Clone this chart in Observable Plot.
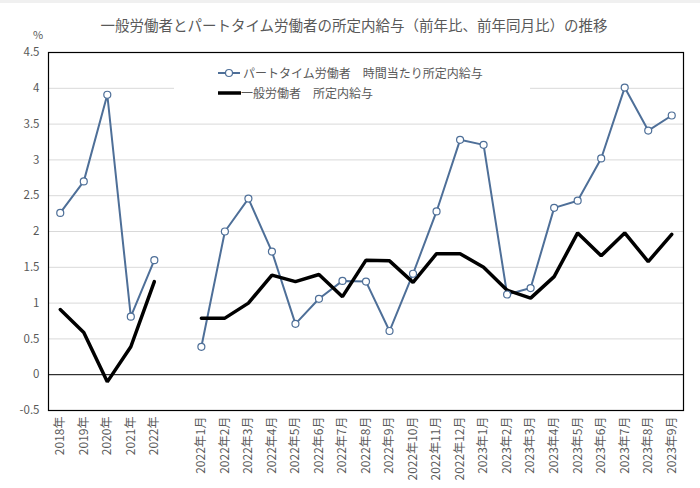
<!DOCTYPE html>
<html>
<head>
<meta charset="utf-8">
<script src="https://cdn.jsdelivr.net/npm/d3@7"></script>
<script src="https://cdn.jsdelivr.net/npm/@observablehq/plot@0.6"></script>
<style>
  html, body { margin: 0; padding: 0; background: #fff; }
  body { font-family: "Noto Sans CJK JP", "Noto Sans", sans-serif; color: #595959; }
  #wrap { position: relative; width: 700px; height: 488px; overflow: hidden; }
  #topbar { position: absolute; left: 0; top: 0; width: 700px; height: 3px; background: #f0f0f0; }
  #title { position: absolute; left: 0; top: 14px; width: 708px; text-align: center; font-size: 14.5px; color: #595959; }
  #pct { position: absolute; left: 33px; top: 26px; font-size: 11px; color: #595959; }
  #chart { position: absolute; left: 0; top: 40px; }
  #legend { position: absolute; left: 174px; top: 61px; width: 356px; height: 40px; background: #fff; }
  #legend .row { position: absolute; left: 0; height: 18px; font-size: 12px; line-height: 18px; white-space: nowrap; color: #595959; }
</style>
</head>
<body>
<div id="wrap">
  <div id="topbar"></div>
  <div id="title">一般労働者とパートタイム労働者の所定内給与（前年比、前年同月比）の推移</div>
  <div id="pct">%</div>
  <div id="chart"></div>
  <div id="legend">
    <div class="row" style="top:3px;">
      <svg width="70" height="18" style="position:absolute;left:40px;top:0"><line x1="4" y1="9" x2="26" y2="9" stroke="#4e6f98" stroke-width="2"/><circle cx="15" cy="9" r="3.5" fill="#fff" stroke="#4e6f98" stroke-width="1.2"/></svg>
      <span style="position:absolute;left:69px;">パートタイム労働者　時間当たり所定内給与</span>
    </div>
    <div class="row" style="top:23px;">
      <svg width="70" height="18" style="position:absolute;left:40px;top:0"><line x1="4" y1="9" x2="27" y2="9" stroke="#000" stroke-width="3.5"/></svg>
      <span style="position:absolute;left:67px;">一般労働者　所定内給与</span>
    </div>
  </div>
</div>
<script>
// ---- data ----
const years = ["2018年", "2019年", "2020年", "2021年", "2022年"];
const months = [
  "2022年1月", "2022年2月", "2022年3月", "2022年4月", "2022年5月", "2022年6月",
  "2022年7月", "2022年8月", "2022年9月", "2022年10月", "2022年11月", "2022年12月",
  "2023年1月", "2023年2月", "2023年3月", "2023年4月", "2023年5月", "2023年6月",
  "2023年7月", "2023年8月", "2023年9月"
];
const partAnnual = [2.26, 2.70, 3.91, 0.81, 1.60];
const partMonthly = [0.39, 2.00, 2.46, 1.72, 0.71, 1.06, 1.31, 1.30, 0.61, 1.41, 2.28, 3.28,
                     3.21, 1.12, 1.21, 2.33, 2.43, 3.02, 4.01, 3.41, 3.62];
const genAnnual = [0.91, 0.59, -0.10, 0.39, 1.30];
const genMonthly = [0.79, 0.79, 1.00, 1.39, 1.30, 1.40, 1.09, 1.60, 1.59, 1.29, 1.69, 1.69,
                    1.50, 1.18, 1.07, 1.37, 1.98, 1.66, 1.98, 1.58, 1.96];
const yTicks = [-0.5, 0, 0.5, 1, 1.5, 2, 2.5, 3, 3.5, 4, 4.5];
const gridValues = [0.5, 1, 1.5, 2, 2.5, 3, 3.5, 4];
const gapLabel = "";

// ---- build tables ----
const xDomain = [...years, gapLabel, ...months];
function rows(annual, monthly) {
  return [
    ...years.map((k, i) => ({ x: k, v: annual[i], seg: "annual" })),
    ...months.map((k, i) => ({ x: k, v: monthly[i], seg: "monthly" }))
  ];
}
const part = rows(partAnnual, partMonthly);
const gen = rows(genAnnual, genMonthly);

const blue = "#4e6f98";
const chart = Plot.plot({
  width: 700,
  height: 448,
  marginTop: 12,
  marginLeft: 48,
  marginRight: 17,
  marginBottom: 78,
  style: { fontFamily: '"Noto Sans CJK JP", "Noto Sans", sans-serif', fontSize: "11px", color: "#595959", background: "transparent" },
  x: { type: "point", domain: xDomain, padding: 0.5, round: false },
  y: { domain: [-0.5, 4.5] },
  marks: [
    Plot.ruleY(gridValues, { stroke: "#d9d9d9", strokeWidth: 1 }),
    Plot.ruleY([0], { stroke: "#000", strokeWidth: 1 }),
    Plot.frame({ stroke: "#000", strokeWidth: 1.2 }),
    Plot.line(part, { x: "x", y: "v", z: "seg", stroke: blue, strokeWidth: 2 }),
    Plot.line(gen, { x: "x", y: "v", z: "seg", stroke: "#000", strokeWidth: 3.5, strokeLinejoin: "miter" }),
    Plot.dot(part, { x: "x", y: "v", r: 3.5, fill: "#fff", stroke: blue, strokeWidth: 1.2 }),
    Plot.axisY({ ticks: yTicks, tickFormat: d => String(d), tickSize: 0, tickPadding: 9, label: null, fontSize: 11.5 }),
    Plot.axisX({ tickSize: 0, tickRotate: -90, tickPadding: 6, label: null, fontSize: 12 })
  ]
});
document.getElementById("chart").appendChild(chart);
</script>
</body>
</html>
